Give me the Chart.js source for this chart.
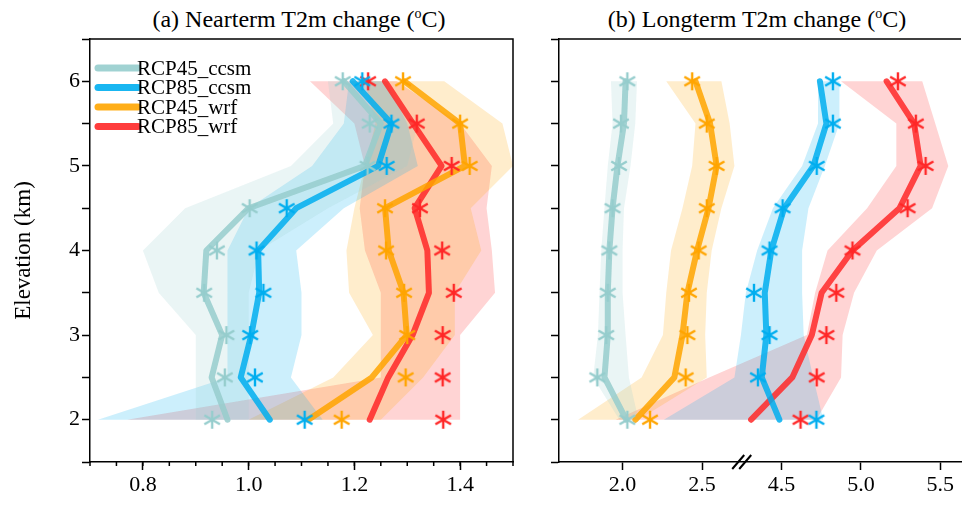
<!DOCTYPE html>
<html>
<head>
<meta charset="utf-8">
<script src="https://cdn.jsdelivr.net/npm/chart.js@4.4.0/dist/chart.umd.min.js"></script>
<style>
  body { margin: 0; background: #fff; }
  #wrap { position: relative; width: 971px; height: 512px; font-family: "Liberation Serif", "Times New Roman", serif; }
  .ttl { position: absolute; top: 6px; font-size: 24px; white-space: nowrap; transform: translateX(-50%); color: #000; }
  .ttl sup { font-size: 14px; }
  .box { position: absolute; top: 0; height: 512px; }
</style>
</head>
<body>
<div id="wrap">
  <div class="ttl" style="left:299px">(a) Nearterm T2m change (<sup>o</sup>C)</div>
  <div class="ttl" style="left:757px">(b) Longterm T2m change (<sup>o</sup>C)</div>
  <div class="box" style="left:0;width:530px"><canvas id="nearChart"></canvas></div>
  <div class="box" style="left:530px;width:441px"><canvas id="farChart"></canvas></div>
</div>
<script>
// elevation levels (km) and series, in the order used by every array below
const elevation = [2, 2.5, 3, 3.5, 4, 4.5, 5, 5.5, 6];
const elevationLabels = [2, 3, 4, 5, 6];
const seriesNames = ['RCP45_ccsm', 'RCP85_ccsm', 'RCP45_wrf', 'RCP85_wrf'];
const seriesColors = [[150, 205, 205], [0, 174, 239], [255, 165, 0], [255, 40, 40]];

// (a) near term, values per elevation
const nearLines = [
    [0.96, 0.93, 0.95, 0.915, 0.92, 1.00, 1.22, 1.25, 1.18],
    [1.04, 0.985, 1.005, 1.02, 1.018, 1.09, 1.245, 1.27, 1.197],
    [1.113, 1.233, 1.299, 1.293, 1.265, 1.258, 1.409, 1.40, 1.295],
    [1.229, 1.264, 1.31, 1.341, 1.338, 1.314, 1.365, 1.311, 1.258]
];
const nearStars = [
    [0.931, 0.955, 0.958, 0.916, 0.94, 1.002, 1.225, 1.229, 1.178],
    [1.106, 1.012, 1.003, 1.028, 1.015, 1.072, 1.261, 1.27, 1.215],
    [1.176, 1.297, 1.30, 1.294, 1.26, 1.258, 1.418, 1.40, 1.292],
    [1.368, 1.367, 1.367, 1.388, 1.366, 1.324, 1.384, 1.318, 1.226]
];
const nearLow = [
    [0.90, 0.90, 0.90, 0.83, 0.80, 0.88, 1.08, 1.16, 1.15],
    [0.715, 0.96, 0.96, 0.96, 0.96, 1.00, 1.12, 1.18, 1.19],
    [1.00, 1.16, 1.235, 1.19, 1.185, 1.20, 1.22, 1.24, 1.22],
    [0.77, 1.25, 1.25, 1.25, 1.22, 1.21, 1.22, 1.20, 1.116]
];
const nearHigh = [
    [1.00, 1.00, 1.00, 1.00, 1.02, 1.15, 1.30, 1.32, 1.25],
    [1.14, 1.08, 1.10, 1.10, 1.09, 1.18, 1.32, 1.30, 1.26],
    [1.25, 1.33, 1.39, 1.39, 1.44, 1.42, 1.50, 1.48, 1.37],
    [1.40, 1.40, 1.40, 1.466, 1.46, 1.45, 1.46, 1.40, 1.28]
];
const nearTicks = [0.8, 1.0, 1.2, 1.4];

// (b) long term, real values; RCP85 curves sit right of the axis break
const farLines = [
    [2.023, 1.886, 1.907, 1.907, 1.917, 1.937, 1.968, 2.009, 2.019],
    [4.487, 4.376, 4.405, 4.395, 4.436, 4.517, 4.701, 4.783, 4.742],
    [2.081, 2.326, 2.377, 2.408, 2.469, 2.541, 2.592, 2.551, 2.459],
    [4.309, 4.568, 4.691, 4.753, 4.947, 5.243, 5.376, 5.335, 5.162]
];
const farStars = [
    [2.03, 1.841, 1.897, 1.907, 1.917, 1.937, 1.978, 1.99, 2.03],
    [4.72, 4.352, 4.425, 4.327, 4.425, 4.507, 4.722, 4.824, 4.824],
    [2.173, 2.397, 2.408, 2.418, 2.479, 2.53, 2.592, 2.53, 2.438],
    [4.62, 4.722, 4.783, 4.845, 4.947, 5.294, 5.407, 5.346, 5.233]
];
const farLow = [
    [1.98, 1.815, 1.845, 1.855, 1.866, 1.886, 1.907, 1.937, 1.927],
    [3.76, 4.204, 4.245, 4.276, 4.347, 4.446, 4.63, 4.73, 4.73],
    [1.72, 2.12, 2.254, 2.275, 2.305, 2.377, 2.438, 2.459, 2.275],
    [3.456, 4.045, 4.66, 4.712, 4.79, 5.039, 5.223, 5.223, 4.875]
];
const farHigh = [
    [2.10, 2.04, 2.019, 2.0, 2.0, 2.009, 2.05, 2.08, 2.091],
    [4.763, 4.70, 4.64, 4.63, 4.63, 4.67, 4.773, 4.865, 4.865],
    [2.10, 2.53, 2.52, 2.53, 2.561, 2.622, 2.704, 2.674, 2.622],
    [4.72, 4.875, 4.885, 4.957, 5.10, 5.448, 5.55, 5.468, 5.386]
];
const farTicks = [2.0, 2.5, 4.5, 5.0, 5.5];
const farShift = [0, 1.5, 0, 1.5];   // broken axis: 4.5 is drawn where 3.0 would be
const breakAt = 2.75;

const FONT = '"Liberation Serif", "Times New Roman", serif';

function rgba(c, a) {
    return `rgba(${c[0]},${c[1]},${c[2]},${a})`;
}

function pts(xs) {
    return xs.map((x, i) => ({ x: x, y: elevation[i] }));
}

function bandPts(lo, hi) {
    return pts(lo).concat(pts(hi).reverse());
}

// six-armed asterisk marker
function starMark(c) {
    const cv = document.createElement('canvas');
    cv.width = 22;
    cv.height = 22;
    const g = cv.getContext('2d');
    g.strokeStyle = rgba(c, 1);
    g.lineWidth = 2.4;
    g.lineCap = 'butt';
    g.translate(11, 11);
    for (let k = 0; k < 3; k++) {
        const ang = Math.PI / 2 + k * Math.PI / 3;
        g.beginPath();
        g.moveTo(Math.cos(ang) * 9, Math.sin(ang) * 9);
        g.lineTo(-Math.cos(ang) * 9, -Math.sin(ang) * 9);
        g.stroke();
    }
    return cv;
}

function buildDatasets(lines, stars, low, high, shift) {
    const sets = [];
    seriesNames.forEach((name, i) => {
        const s = shift ? shift[i] : 0;
        const mv = arr => arr.map(v => v - s);
        const c = seriesColors[i];
        sets.push({
            type: 'line', label: name + ' range',
            data: bandPts(mv(low[i]), mv(high[i])),
            fill: 'shape', backgroundColor: rgba(c, 0.2),
            borderWidth: 0, pointRadius: 0, order: 3
        });
        sets.push({
            type: 'line', label: name,
            data: pts(mv(lines[i])),
            borderColor: rgba(c, 0.85), borderWidth: 6,
            borderCapStyle: 'round', borderJoinStyle: 'round',
            pointRadius: 0, fill: false, order: 2
        });
        sets.push({
            type: 'scatter', label: name + ' stars',
            data: pts(mv(stars[i])),
            pointStyle: starMark(c), pointRadius: 9, order: 1
        });
    });
    return sets;
}

// box lines, minor ticks, axis break and legend
const panelExtras = {
    id: 'panelExtras',
    afterDraw(chart, args, opts) {
        const { ctx, chartArea: a } = chart;
        const xs = chart.scales.x;
        ctx.save();
        ctx.strokeStyle = '#000';
        ctx.lineWidth = 1.5;
        ctx.beginPath();
        ctx.moveTo(a.left, a.top);
        ctx.lineTo(a.right, a.top);
        if (opts.rightBorder) {
            ctx.lineTo(a.right, a.bottom);
        }
        ctx.stroke();

        if (opts.minorStep) {
            ctx.beginPath();
            for (let v = xs.min; v <= xs.max + 1e-9; v += opts.minorStep) {
                const px = xs.getPixelForValue(v);
                ctx.moveTo(px, a.bottom);
                ctx.lineTo(px, a.bottom + 4);
            }
            ctx.stroke();
        }

        if (opts.breakAt) {
            const bx = xs.getPixelForValue(opts.breakAt);
            const by = a.bottom;
            ctx.lineWidth = 2;
            ctx.beginPath();
            [-3.5, 3.5].forEach(d => {
                ctx.moveTo(bx + d - 6, by + 7);
                ctx.lineTo(bx + d + 6, by - 7);
            });
            ctx.stroke();
        }

        if (opts.legend) {
            ctx.font = '21px ' + FONT;
            ctx.textBaseline = 'middle';
            ctx.fillStyle = '#000';
            seriesNames.forEach((name, i) => {
                const y = a.top + 29 + i * 19.5;
                ctx.strokeStyle = rgba(seriesColors[i], 0.9);
                ctx.lineWidth = 7;
                ctx.lineCap = 'round';
                ctx.beginPath();
                ctx.moveTo(a.left + 8, y);
                ctx.lineTo(a.left + 48, y);
                ctx.stroke();
                ctx.fillText(name, a.left + 47, y + 1);
            });
        }
        ctx.restore();
    }
};

function yScale(width, withTitle) {
    return {
        type: 'linear', min: 1.5, max: 6.5,
        afterFit: s => { s.width = width; },
        ticks: {
            stepSize: 0.5, padding: 2, color: '#000',
            font: { family: FONT, size: 22 },
            callback: v => (withTitle && elevationLabels.includes(v)) ? String(v) : ''
        },
        grid: { drawOnChartArea: false, drawTicks: true, tickLength: 8, color: '#000', tickWidth: 1.5 },
        border: { display: true, color: '#000', width: 1.5 },
        title: {
            display: withTitle, text: 'Elevation (km)', color: '#000',
            font: { family: FONT, size: 23 }, padding: { top: 10, bottom: 0 }
        }
    };
}

function xScale(min, max, tickValues, label) {
    return {
        type: 'linear', min: min, max: max,
        afterFit: s => { s.height = 50; },
        afterBuildTicks: s => { s.ticks = tickValues.map(v => ({ value: v })); },
        ticks: {
            padding: 2, color: '#000', maxRotation: 0, autoSkip: false,
            font: { family: FONT, size: 22 },
            callback: label
        },
        grid: { drawOnChartArea: false, drawTicks: true, tickLength: 8, color: '#000', tickWidth: 1.5 },
        border: { display: true, color: '#000', width: 1.5 }
    };
}

const common = {
    responsive: true,
    maintainAspectRatio: false,
    animation: false,
    events: []
};

new Chart(document.getElementById('nearChart'), {
    type: 'line',
    data: { datasets: buildDatasets(nearLines, nearStars, nearLow, nearHigh, null) },
    options: Object.assign({}, common, {
        layout: { padding: { top: 39, right: 17, left: 0, bottom: 0 } },
        scales: {
            x: xScale(0.7, 1.5, nearTicks, v => v.toFixed(1)),
            y: yScale(90, true)
        },
        plugins: {
            legend: { display: false },
            tooltip: { enabled: false },
            panelExtras: { rightBorder: true, minorStep: 0.05, legend: true }
        }
    }),
    plugins: [panelExtras]
});

// tick positions on the broken axis
const farTickPos = farTicks.map(v => v > breakAt + 1.5 ? v - 1.5 : v);

new Chart(document.getElementById('farChart'), {
    type: 'line',
    data: { datasets: buildDatasets(farLines, farStars, farLow, farHigh, farShift) },
    options: Object.assign({}, common, {
        layout: { padding: { top: 39, right: 0, left: 0, bottom: 0 } },
        scales: {
            x: xScale(1.6, 4.13, farTickPos, (v, i) => farTicks[i].toFixed(1)),
            y: yScale(29, false)
        },
        plugins: {
            legend: { display: false },
            tooltip: { enabled: false },
            panelExtras: { rightBorder: false, breakAt: breakAt }
        }
    }),
    plugins: [panelExtras]
});
</script>
</body>
</html>
